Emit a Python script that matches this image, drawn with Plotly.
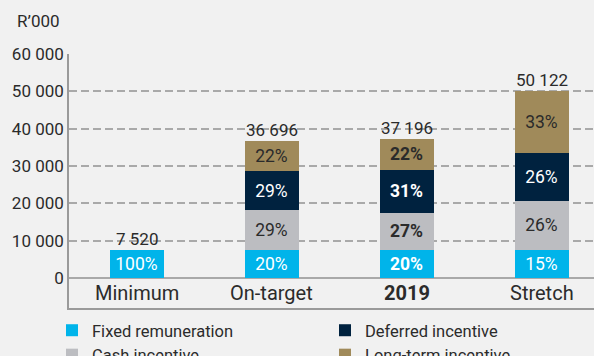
import plotly.graph_objects as go

# Pay-mix scenarios (R'000)
categories = ["Minimum", "On-target", "2019", "Stretch"]
fixed_remuneration = [7520, 7520, 7520, 7520]
cash_incentive = [0, 10600, 10000, 13100]
deferred_incentive = [0, 10620, 11530, 12860]
long_term_incentive = [0, 7956, 8146, 16642]
totals_labels = ["7 520", "36 696", "37 196", "50 122"]

y_ticks = [0, 10000, 20000, 30000, 40000, 50000, 60000]
y_tick_labels = ["0", "10 000", "20 000", "30 000", "40 000", "50 000", "60 000"]

totals = [a + b + c + d for a, b, c, d in zip(fixed_remuneration, cash_incentive,
                                               deferred_incentive, long_term_incentive)]

FONT = "Roboto, Open Sans, sans-serif"
BG = "#f1f1f1"
TXT = "#2b2b2b"

# name, values, fill, label colour, legend column
series = [
    ("Fixed remuneration", fixed_remuneration, "#00b4ea", "white", "legend"),
    ("Cash incentive", cash_incentive, "#bcbdc1", TXT, "legend"),
    ("Deferred incentive", deferred_incentive, "#00223f", "white", "legend2"),
    ("Long-term incentive", long_term_incentive, "#a08a5a", TXT, "legend2"),
]

fig = go.Figure()
for name, vals, color, tcolor, leg in series:
    texts = []
    for cat, v, t in zip(categories, vals, totals):
        if v <= 0:
            texts.append("")
            continue
        pct = f"{round(100 * v / t)}%"
        texts.append(f"<b>{pct}</b>" if cat == "2019" else pct)
    fig.add_trace(go.Bar(
        x=categories, y=vals, name=name, marker=dict(color=color, line=dict(width=0)),
        width=0.4, text=texts, texttemplate="%{text}", textposition="inside",
        insidetextanchor="middle", constraintext="none",
        textfont=dict(size=17.5, color=tcolor, family=FONT),
        legend=leg, hoverinfo="skip",
    ))

# total value above each bar (category axis: position by index)
for i, (t, lab) in enumerate(zip(totals, totals_labels)):
    fig.add_annotation(x=i, y=t, text=lab, showarrow=False, yanchor="bottom",
                       yshift=-1, font=dict(size=17, color=TXT, family=FONT))

# category names inside the band below zero
for i, cat in enumerate(categories):
    fig.add_annotation(x=i, y=-4018, text=f"<b>{cat}</b>" if cat == "2019" else cat,
                       showarrow=False, font=dict(size=20, color=TXT, family=FONT))

# unit label above the value axis
fig.add_annotation(xref="paper", yref="paper", x=-0.013, y=(308 - 21) / 254,
                   xanchor="right", yanchor="middle", text="R’000", showarrow=False,
                   font=dict(size=17, color=TXT, family=FONT))

legend_style = dict(xref="container", yref="container", y=1 - 313 / 356,
                    xanchor="left", yanchor="top", orientation="v", traceorder="normal",
                    font=dict(size=16.5, color=TXT, family=FONT),
                    bgcolor="rgba(0,0,0,0)", itemclick=False, tracegroupgap=0)

fig.update_layout(
    width=594, height=356, barmode="stack",
    paper_bgcolor=BG, plot_bgcolor=BG,
    margin=dict(l=69, r=0, t=54, b=48, autoexpand=False),
    font=dict(family=FONT, color=TXT),
    showlegend=True,
    legend=dict(x=52 / 594, **legend_style),
    legend2=dict(x=325 / 594, **legend_style),
    xaxis=dict(type="category", categoryorder="array", categoryarray=categories,
               range=[-0.5, -0.5 + 525 / 135], showticklabels=False, ticks="",
               showgrid=False, showline=True, linecolor="#9a9a9a", linewidth=1.5,
               mirror=False, fixedrange=True),
    yaxis=dict(range=[-8036, 60000], tickvals=y_ticks, ticktext=y_tick_labels,
               tickfont=dict(size=17, color=TXT, family=FONT), ticks="",
               showgrid=True, gridcolor="#a9a9a9", gridwidth=1.5, griddash="8px,4px",
               zeroline=True, zerolinecolor="#a9a9a9", zerolinewidth=1.5,
               showline=True, linecolor="#9a9a9a", linewidth=1.5, fixedrange=True),
)

fig.write_html("out.html")
